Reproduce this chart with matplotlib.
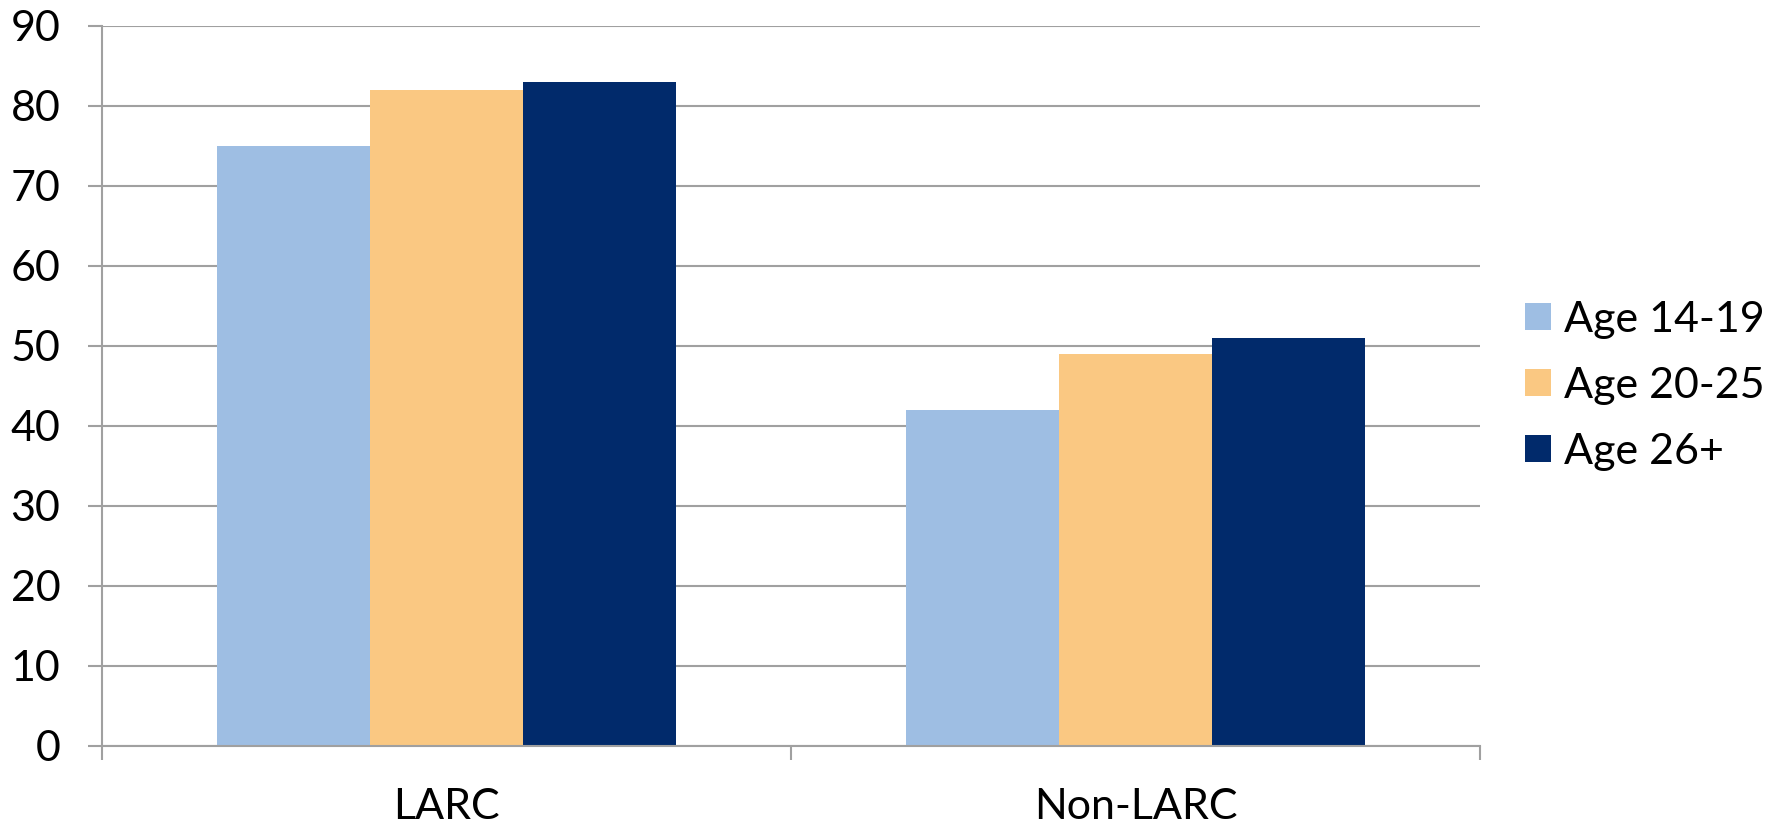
import matplotlib.pyplot as plt
import numpy as np

# Contraception groups and percentages by age band
categories = ['LARC', 'Non-LARC']
age_groups = ['Age 14-19', 'Age 20-25', 'Age 26+']
age_14_19 = [75, 42]
age_20_25 = [82, 49]
age_26_up = [83, 51]

colors = ['#9EBEE3', '#FAC882', '#012A6B']
grid_grey = '#A0A0A0'

plt.rcParams['font.family'] = ['Lato', 'DejaVu Sans']

fig = plt.figure(figsize=(17.84, 8.25), dpi=100)
ax = fig.add_axes([0.0572, 0.0958, 0.7724, 0.8727])

x = np.arange(len(categories))
width = 0.222
series = [age_14_19, age_20_25, age_26_up]
for i, vals in enumerate(series):
    ax.bar(x + (i - 1) * width, vals, width, color=colors[i],
           label=age_groups[i], zorder=3)

ax.set_xlim(-0.5, 1.5)
ax.set_ylim(0, 90)
ax.set_yticks(np.arange(0, 91, 10))
ax.yaxis.grid(True, color=grid_grey, linewidth=1.5, zorder=0)

for side in ['top', 'right']:
    ax.spines[side].set_visible(False)
for side in ['left', 'bottom']:
    ax.spines[side].set_color(grid_grey)
    ax.spines[side].set_linewidth(1.5)
    ax.spines[side].set_zorder(4)

# category labels at bar groups, tick marks at group boundaries
ax.set_xticks(x)
ax.set_xticklabels(categories)
ax.set_xticks([-0.5, 0.5, 1.5], minor=True)
ax.tick_params(axis='x', which='major', length=0, pad=30, labelsize=31)
ax.tick_params(axis='x', which='minor', length=10, width=1.5,
               color=grid_grey, direction='out')
ax.tick_params(axis='y', length=10, width=1.5, color=grid_grey,
               direction='out', pad=20, labelsize=31)

ax.legend(loc='center left', bbox_to_anchor=(1.02, 0.5), frameon=False,
          fontsize=31, handlelength=0.6, handleheight=0.6,
          handletextpad=0.3, labelspacing=0.65, borderaxespad=0)

fig.savefig('out.png', dpi=100)
